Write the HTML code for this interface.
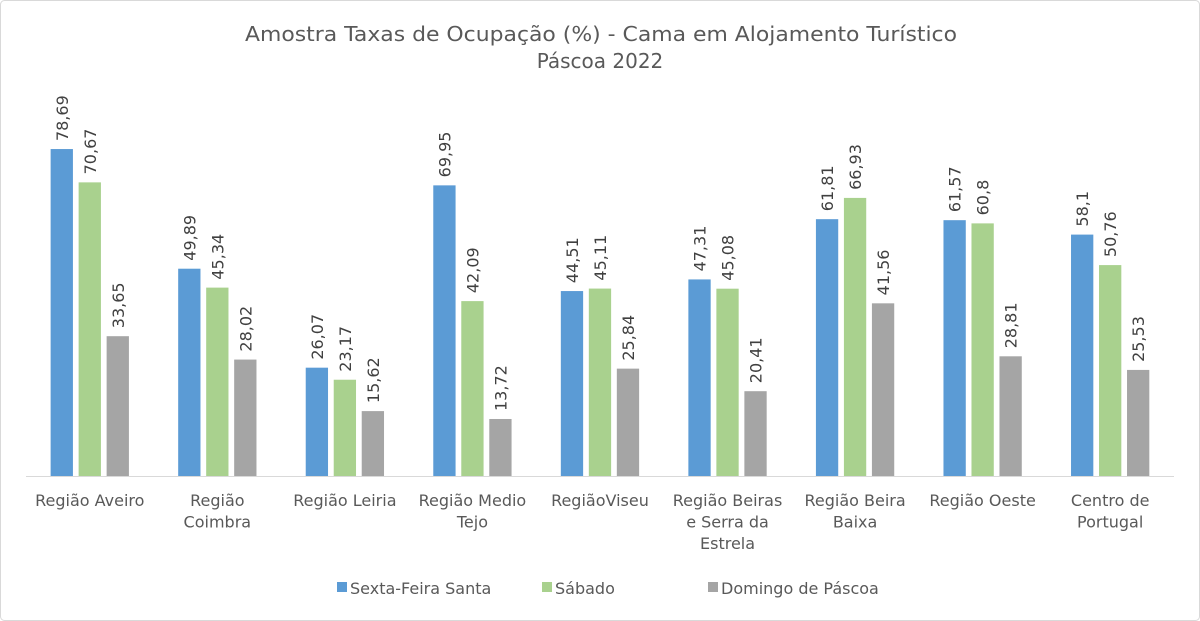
<!DOCTYPE html>
<html><head><meta charset="utf-8"><style>
body{margin:0;background:#fff}
svg{display:block;font-family:"DejaVu Sans","Liberation Sans",sans-serif}
</style></head><body>
<svg id="chart" width="1200" height="621">
<rect x="0.5" y="0.5" width="1199" height="620" rx="4" fill="#fff" stroke="#d9d9d9"/>
<text x="245" y="41" textLength="712" lengthAdjust="spacingAndGlyphs" font-size="20" fill="#595959">Amostra Taxas de Ocupação (%) - Cama em Alojamento Turístico</text>
<text x="600" y="68" text-anchor="middle" font-size="20" fill="#595959">Páscoa 2022</text>
<line x1="26" y1="476.5" x2="1174" y2="476.5" stroke="#d9d9d9"/>
<g id="bars"></g>
<g id="legend"></g>
</svg>
<script>
const categories=[["Região Aveiro"],["Região","Coimbra"],["Região Leiria"],["Região Medio","Tejo"],["RegiãoViseu"],["Região Beiras","e Serra da","Estrela"],["Região Beira","Baixa"],["Região Oeste"],["Centro de","Portugal"]];
const sexta=[78.69,49.89,26.07,69.95,44.51,47.31,61.81,61.57,58.1];
const sabado=[70.67,45.34,23.17,42.09,45.11,45.08,66.93,60.8,50.76];
const domingo=[33.65,28.02,15.62,13.72,25.84,20.41,41.56,28.81,25.53];
const seriesNames=["Sexta-Feira Santa","Sábado","Domingo de Páscoa"];
const colors=["#5B9BD5","#A9D18E","#A5A5A5"];
const NS="http://www.w3.org/2000/svg";
const x0=26,catW=127.55,base=476,scale=4.155,bw=22.3,gap=5.7;
const y=v=>base-v*scale;
const g=document.getElementById('bars');
function mk(t,a){const e=document.createElementNS(NS,t);for(const k in a)e.setAttribute(k,a[k]);return e;}
const series=[sexta,sabado,domingo];
categories.forEach((c,i)=>{
  const cx=x0+catW*(i+0.5);
  series.forEach((s,j)=>{
    const bx=cx+(j-1)*(bw+gap)-bw/2;
    const r=mk('rect',{x:bx,y:y(s[i]),width:bw,height:s[i]*scale,fill:colors[j]});
    
    
    g.appendChild(r);
    const lx=bx+bw/2+6,ly=y(s[i])-8;
    const t=mk('text',{x:lx,y:ly,transform:`rotate(-90 ${lx} ${ly})`,'font-size':16,fill:'#404040'});
    t.textContent=String(s[i]).replace('.',',');
    
    
    g.appendChild(t);
  });
  c.forEach((line,k)=>{
    const t=mk('text',{x:cx,y:506+k*21.5,'text-anchor':'middle','font-size':16,fill:'#595959'});
    t.textContent=line;
    
    
    g.appendChild(t);
  });
});
const lg=document.getElementById('legend');
const lx=[337,542,708];
seriesNames.forEach((n,j)=>{
  const r=mk('rect',{x:lx[j],y:582,width:10,height:10,fill:colors[j]});
  
  
  lg.appendChild(r);
  const t=mk('text',{x:lx[j]+13,y:594,'font-size':16,fill:'#595959'});
  t.textContent=n;
  
  
  lg.appendChild(t);
});
</script>
</body></html>
